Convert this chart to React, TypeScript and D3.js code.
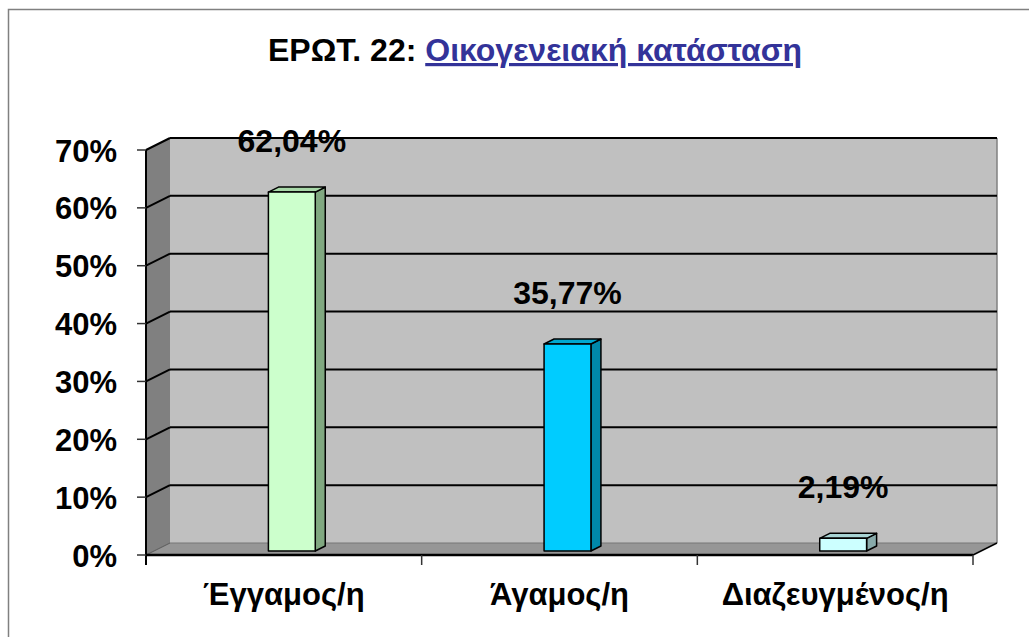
import React from "react";
import * as d3 from "d3";

const categories = ["Έγγαμος/η", "Άγαμος/η", "Διαζευγμένος/η"];
const values = [62.04, 35.77, 2.19];
const valueLabels = ["62,04%", "35,77%", "2,19%"];
const yTicks = [0, 10, 20, 30, 40, 50, 60, 70];
const frontColors = ["#CCFFCC", "#00CCFF", "#CCFFFF"];
const sideColors = ["#80A880", "#0088AA", "#88AAAA"];
const topColors = ["#A8D8A8", "#00A8D0", "#A8D4D4"];

export default function App() {
  const W = 1029, H = 637;
  const x0 = 146, x1 = 973;
  const y0 = 555, yTop = 150;
  const dx = 24, dy = 12;
  const font = "'Liberation Sans', Arial, sans-serif";

  const x = d3.scaleBand<string>().domain(categories).range([x0, x1]).padding(0);
  const y = d3.scaleLinear().domain([0, 70]).range([y0, yTop]);

  const bw = x.bandwidth() * 0.17;
  const dStart = 1 / 3, dEnd = 0.75;

  const pts = (arr: number[][]) => arr.map((p) => p.join(",")).join(" ");

  return (
    <svg width={W} height={H} style={{ position: "absolute", left: 0, top: 0 }}>
      <rect x={0} y={0} width={W} height={H} fill="#fff" />
      <rect x={8.5} y={9.5} width={1200} height={800} fill="none" stroke="#808080" strokeWidth={1.5} />
      {/* title */}
      <text x={535} y={61} textAnchor="middle" fontFamily={font} fontWeight="bold" fontSize={32}>
        <tspan fill="#000">ΕΡΩΤ. 22: </tspan>
        <tspan fill="#333399" textDecoration="underline">Οικογενειακή κατάσταση</tspan>
      </text>

      {/* back wall */}
      <rect x={x0 + dx} y={yTop - dy} width={x1 - x0} height={y0 - yTop} fill="#C0C0C0" />
      {/* side wall */}
      <polygon points={pts([[x0, yTop], [x0 + dx, yTop - dy], [x0 + dx, y0 - dy], [x0, y0]])} fill="#808080" />
      {/* floor */}
      <polygon points={pts([[x0, y0], [x0 + dx, y0 - dy], [x1 + dx, y0 - dy], [x1, y0]])} fill="#969696" />
      <line x1={x0 + dx} y1={y0 - dy} x2={x1 + dx} y2={y0 - dy} stroke="#777" strokeWidth={1} />
      {/* back wall right edge */}
      <line x1={x1 + dx} y1={yTop - dy} x2={x1 + dx} y2={y0 - dy} stroke="#808080" strokeWidth={1.5} />

      {/* gridlines */}
      {yTicks.filter((t) => t > 0).map((t) => (
        <g key={t}>
          <line x1={x0 + dx} y1={y(t) - dy} x2={x1 + dx} y2={y(t) - dy} stroke="#000" strokeWidth={2} />
          <line x1={x0} y1={y(t)} x2={x0 + dx} y2={y(t) - dy} stroke="#000" strokeWidth={2} />
        </g>
      ))}
      <line x1={x0} y1={y0} x2={x0 + dx} y2={y0 - dy} stroke="#555" strokeWidth={1} />
      <line x1={x1} y1={y0} x2={x1 + dx} y2={y0 - dy} stroke="#000" strokeWidth={1.5} />

      {/* bars */}
      {categories.map((c, i) => {
        const cx = (x(c) as number) + x.bandwidth() / 2 + dx * dStart;
        const by = y0 - dy * dStart;
        const left = cx - bw / 2, right = cx + bw / 2;
        const top = by - (y0 - y(values[i]));
        const ddx = dx * (dEnd - dStart), ddy = dy * (dEnd - dStart);
        return (
          <g key={c} stroke="#000" strokeWidth={1.5} strokeLinejoin="round">
            <polygon points={pts([[right, top], [right + ddx, top - ddy], [right + ddx, by - ddy], [right, by]])} fill={sideColors[i]} />
            <polygon points={pts([[left, top], [left + ddx, top - ddy], [right + ddx, top - ddy], [right, top]])} fill={topColors[i]} />
            <rect x={left} y={top} width={bw} height={by - top} fill={frontColors[i]} />
            <text x={cx} y={top - 40} textAnchor="middle" fontFamily={font} fontWeight="bold" fontSize={32} stroke="none" fill="#000">
              {valueLabels[i]}
            </text>
          </g>
        );
      })}

      {/* axes */}
      <line x1={x0} y1={y0} x2={x1} y2={y0} stroke="#000" strokeWidth={2.5} />
      <line x1={x0} y1={yTop} x2={x0} y2={y0 + 10} stroke="#000" strokeWidth={2} />
      {yTicks.map((t) => (
        <g key={t}>
          <line x1={x0 - 9} y1={y(t)} x2={x0} y2={y(t)} stroke="#333" strokeWidth={1.5} />
          <text x={117} y={y(t) + 11.5} textAnchor="end" fontFamily={font} fontWeight="bold" fontSize={31} fill="#000">
            {t}%
          </text>
        </g>
      ))}
      {categories.map((c) => (
        <line key={c} x1={(x(c) as number) + x.bandwidth()} y1={y0} x2={(x(c) as number) + x.bandwidth()} y2={y0 + 10} stroke="#333" strokeWidth={1.5} />
      ))}
      {categories.map((c) => (
        <text key={c} x={(x(c) as number) + x.bandwidth() / 2} y={605} textAnchor="middle" fontFamily={font} fontWeight="bold" fontSize={31} fill="#000">
          {c}
        </text>
      ))}
    </svg>
  );
}
